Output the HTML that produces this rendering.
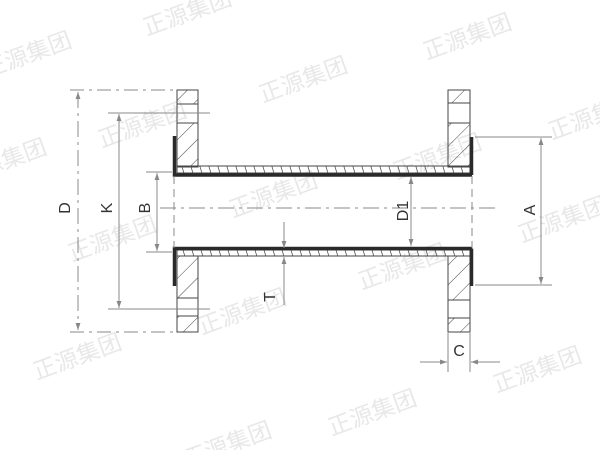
<!DOCTYPE html>
<html><head><meta charset="utf-8"><style>
html,body{margin:0;padding:0;background:#fff;width:600px;height:450px;overflow:hidden}
svg{display:block}
.wm{font-family:"Liberation Sans","Noto Sans CJK SC",sans-serif;font-size:23px;fill:#e8e8e8}
.lb{font-family:"Liberation Sans",sans-serif;font-size:16px;fill:#333}
</style></head><body>
<svg width="600" height="450" viewBox="0 0 600 450" xmlns="http://www.w3.org/2000/svg">
<defs>
<pattern id="h" patternUnits="userSpaceOnUse" width="14" height="14" patternTransform="rotate(45)">
<line x1="0" y1="0" x2="0" y2="14" stroke="#444" stroke-width="1"/>
</pattern>
<pattern id="p" patternUnits="userSpaceOnUse" width="9" height="20">
<line x1="0" y1="0" x2="6" y2="20" stroke="#555" stroke-width="0.8"/>
</pattern>
<marker id="a" viewBox="0 0 10 10" refX="10" refY="5" markerWidth="9" markerHeight="7" orient="auto-start-reverse" markerUnits="userSpaceOnUse">
<path d="M0,1.5 L10,5 L0,8.5 z" fill="#888"/>
</marker>
</defs>
<g class="wm">
<text transform="translate(190,20) rotate(-20)" text-anchor="middle">正源集团</text>
<text transform="translate(30,62) rotate(-20)" text-anchor="middle">正源集团</text>
<text transform="translate(470,44) rotate(-20)" text-anchor="middle">正源集团</text>
<text transform="translate(306,87) rotate(-20)" text-anchor="middle">正源集团</text>
<text transform="translate(145,132) rotate(-20)" text-anchor="middle">正源集团</text>
<text transform="translate(5,169) rotate(-20)" text-anchor="middle">正源集团</text>
<text transform="translate(595,124) rotate(-20)" text-anchor="middle">正源集团</text>
<text transform="translate(440,164) rotate(-20)" text-anchor="middle">正源集团</text>
<text transform="translate(276,202) rotate(-20)" text-anchor="middle">正源集团</text>
<text transform="translate(115,246) rotate(-20)" text-anchor="middle">正源集团</text>
<text transform="translate(565,227) rotate(-20)" text-anchor="middle">正源集团</text>
<text transform="translate(405,274) rotate(-20)" text-anchor="middle">正源集团</text>
<text transform="translate(245,319) rotate(-20)" text-anchor="middle">正源集团</text>
<text transform="translate(80,364) rotate(-20)" text-anchor="middle">正源集团</text>
<text transform="translate(540,377) rotate(-20)" text-anchor="middle">正源集团</text>
<text transform="translate(375,420) rotate(-20)" text-anchor="middle">正源集团</text>
<text transform="translate(230,452) rotate(-20)" text-anchor="middle">正源集团</text>
</g>

<g stroke="#444" stroke-width="1">
<rect x="177" y="90" width="21" height="14" fill="url(#h)"/>
<rect x="177" y="104" width="21" height="19" fill="none"/>
<rect x="177" y="123" width="21" height="44" fill="url(#h)"/>
<rect x="177" y="256" width="21" height="42" fill="url(#h)"/>
<rect x="177" y="298" width="21" height="18" fill="none"/>
<rect x="177" y="316" width="21" height="16" fill="url(#h)"/>
<rect x="448" y="90" width="22" height="13" fill="url(#h)"/>
<rect x="448" y="103" width="22" height="20" fill="none"/>
<rect x="448" y="123" width="22" height="44" fill="url(#h)"/>
<rect x="448" y="256" width="22" height="44" fill="url(#h)"/>
<rect x="448" y="300" width="22" height="18" fill="none"/>
<rect x="448" y="318" width="22" height="14" fill="url(#h)"/>
<rect x="177" y="166" width="293" height="7" fill="url(#p)"/>
<rect x="177" y="250" width="293" height="6" fill="url(#p)"/>
</g>
<g fill="none" stroke="#2a2a2a" stroke-width="3.5">
<path d="M174.5,136 V175 H472"/>
<path d="M174.5,286 V248.5 H472"/>
<path d="M471.5,137 V175"/>
<path d="M471.5,286 V248.5"/>
</g>

<g stroke="#888" stroke-width="1" fill="none">
<line x1="160" y1="208" x2="500" y2="208" stroke-dasharray="16,5,3,5"/>
<line x1="174" y1="176" x2="174" y2="248" stroke-dasharray="8,5"/>
<line x1="472" y1="176" x2="472" y2="248" stroke-dasharray="8,5"/>
<line x1="70" y1="90" x2="177" y2="90" stroke-dasharray="14,5,3,5"/>
<line x1="70" y1="332" x2="177" y2="332" stroke-dasharray="14,5,3,5"/>
<line x1="78" y1="92" x2="78" y2="330" stroke-dasharray="16,5,3,5" marker-start="url(#a)" marker-end="url(#a)"/>
<line x1="108" y1="113" x2="210" y2="113"/>
<line x1="108" y1="309" x2="210" y2="309"/>
<line x1="119" y1="114" x2="119" y2="308" marker-start="url(#a)" marker-end="url(#a)"/>
<line x1="146" y1="172" x2="172" y2="172"/>
<line x1="146" y1="252" x2="172" y2="252"/>
<line x1="157" y1="173" x2="157" y2="251" marker-start="url(#a)" marker-end="url(#a)"/>
<line x1="411" y1="177" x2="411" y2="246" marker-start="url(#a)" marker-end="url(#a)"/>
<line x1="475" y1="137" x2="552" y2="137"/>
<line x1="475" y1="285" x2="552" y2="285"/>
<line x1="541" y1="138" x2="541" y2="284" marker-start="url(#a)" marker-end="url(#a)"/>
<line x1="284" y1="222" x2="284" y2="248" marker-end="url(#a)"/>
<line x1="284" y1="305" x2="284" y2="257" marker-end="url(#a)"/>
<line x1="448" y1="333" x2="448" y2="372"/>
<line x1="470" y1="333" x2="470" y2="372"/>
<line x1="420" y1="362" x2="447" y2="362" marker-end="url(#a)"/>
<line x1="500" y1="362" x2="471" y2="362" marker-end="url(#a)"/>
</g>

<g class="lb">
<text transform="translate(70,208) rotate(-90)" text-anchor="middle">D</text>
<text transform="translate(112,208) rotate(-90)" text-anchor="middle">K</text>
<text transform="translate(150,208) rotate(-90)" text-anchor="middle">B</text>
<text transform="translate(408,211) rotate(-90)" text-anchor="middle">D1</text>
<text transform="translate(535,210) rotate(-90)" text-anchor="middle">A</text>
<text transform="translate(275,297) rotate(-90)" text-anchor="middle">T</text>
<text x="459" y="356" text-anchor="middle">C</text>
</g>
</svg>
</body></html>
